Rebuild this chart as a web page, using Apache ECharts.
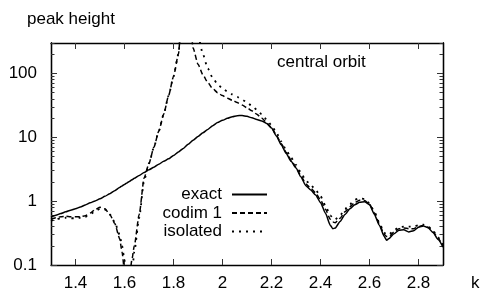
<!DOCTYPE html>
<html>
<head>
<meta charset="utf-8">
<script src="https://cdn.jsdelivr.net/npm/echarts@6/dist/echarts.min.js"></script>
<style>
  html, body { margin: 0; padding: 0; background: #fff; }
  #chart { width: 483px; height: 292px; }
</style>
</head>
<body>
<div id="chart"></div>
<script>
// wave number k
const kValues = [
  1.30, 1.32, 1.34, 1.36, 1.38, 1.40, 1.42, 1.44, 1.46, 1.48,
  1.50, 1.52, 1.54, 1.56, 1.58, 1.59, 1.60, 1.61, 1.62, 1.63,
  1.64, 1.66, 1.68, 1.70, 1.72, 1.74, 1.76, 1.78, 1.80, 1.82,
  1.84, 1.86, 1.88, 1.90, 1.92, 1.94, 1.96, 1.98, 2.00, 2.02,
  2.04, 2.06, 2.08, 2.10, 2.12, 2.14, 2.16, 2.18, 2.20, 2.22,
  2.24, 2.26, 2.28, 2.30, 2.32, 2.34, 2.36, 2.38, 2.40, 2.42,
  2.44, 2.45, 2.46, 2.48, 2.50, 2.52, 2.54, 2.56, 2.58, 2.60,
  2.62, 2.64, 2.66, 2.67, 2.68, 2.70, 2.72, 2.74, 2.76, 2.78,
  2.80, 2.82, 2.84, 2.86, 2.88, 2.90
]

// peak height, exact
const exactValues = [
  0.56, 0.60, 0.64, 0.68, 0.72, 0.76, 0.81, 0.87, 0.94, 1.01,
  1.09, 1.19, 1.31, 1.46, 1.64, 1.73, 1.83, 1.93, 2.04, 2.16,
  2.28, 2.53, 2.8, 3.1, 3.4, 3.8, 4.2, 4.6, 5.2, 5.9,
  6.7, 7.8, 9.0, 10.3, 11.8, 13.3, 15.2, 17, 18.5, 19.8,
  21, 21.8, 22, 21.3, 20.2, 19, 18, 16.5, 14, 10.5,
  7.6, 5.6, 4.2, 3.3, 2.4, 1.75, 1.5, 1.25, 0.95, 0.65,
  0.42, 0.37, 0.38, 0.48, 0.62, 0.76, 0.88, 0.96, 0.98, 0.88,
  0.62, 0.42, 0.28, 0.245, 0.26, 0.31, 0.35, 0.355, 0.33, 0.345,
  0.39, 0.41, 0.38, 0.32, 0.25, 0.19
]

// peak height, codim 1 approximation
const codimValues = [
  0.52, 0.55, 0.57, 0.58, 0.57, 0.57, 0.57, 0.59, 0.65, 0.74,
  0.80, 0.76, 0.62, 0.45, 0.26, 0.16, 0.08, 0.03, 0.06, 0.12,
  0.2, 0.62, 2.3, 3.9, 7, 12.5, 23, 45, 90, 200,
  2000, 2000, 250, 140, 95, 72, 58, 50, 45, 41,
  38, 35, 32, 29, 26, 23, 20, 17, 14.2, 10.8,
  7.9, 5.8, 4.4, 3.4, 2.5, 1.85, 1.6, 1.35, 1.05, 0.75,
  0.52, 0.47, 0.46, 0.54, 0.68, 0.82, 0.95, 1.03, 1.02, 0.9,
  0.65, 0.44, 0.3, 0.28, 0.28, 0.33, 0.37, 0.38, 0.37, 0.37,
  0.4, 0.42, 0.39, 0.33, 0.26, 0.2
]

// peak height, isolated approximation
const isolatedValues = [
  0.49, 0.52, 0.54, 0.55, 0.54, 0.54, 0.55, 0.57, 0.62, 0.70,
  0.76, 0.74, 0.62, 0.47, 0.3, 0.2, 0.12, 0.06, 0.03, 0.07,
  0.16, 0.55, 2.1, 3.9, 7, 12.5, 23, 45, 90, 200,
  2000, 3000, 3000, 400, 200, 120, 85, 68, 58, 52,
  47, 43, 39, 35, 31, 27, 23, 19, 15.5, 11.8,
  8.6, 6.3, 4.8, 3.7, 2.8, 2.1, 1.8, 1.5, 1.2, 0.85,
  0.6, 0.54, 0.52, 0.6, 0.75, 0.9, 1.05, 1.12, 1.08, 0.93,
  0.68, 0.46, 0.32, 0.3, 0.3, 0.35, 0.39, 0.4, 0.4, 0.4,
  0.42, 0.43, 0.4, 0.34, 0.27, 0.21
]

// tick labels
const xTicks = [1.4, 1.6, 1.8, 2.0, 2.2, 2.4, 2.6, 2.8]
const yMajorTicks = [0.1, 1, 10, 100]
const yMinorTicks = [
  0.2, 0.3, 0.4, 0.5, 0.6, 0.7, 0.8, 0.9,
  2, 3, 4, 5, 6, 7, 8, 9,
  20, 30, 40, 50, 60, 70, 80, 90,
  200, 300
]

const FONT = 'Liberation Sans'
const textStyle = { fontFamily: FONT, fontSize: 17, color: '#000' }

function yAxisOf(position, ticks, length, withLabels) {
  return {
    type: 'log',
    logBase: 10,
    min: 0.1,
    max: 300,
    position,
    splitLine: { show: false },
    axisLine: { show: true, lineStyle: { color: '#000', width: 1.3 } },
    axisTick: {
      show: true,
      inside: true,
      length,
      customValues: ticks,
      lineStyle: { color: '#333', width: 1 },
    },
    axisLabel: withLabels
      ? {
          show: true,
          customValues: yMajorTicks,
          margin: 14,
          formatter: (v) => String(+Number(v).toPrecision(3)),
          ...textStyle,
        }
      : { show: false },
  }
}

function xAxisOf(position, withLabels) {
  return {
    type: 'value',
    min: 1.3,
    max: 2.9,
    position,
    splitLine: { show: false },
    axisLine: { show: true, onZero: false, lineStyle: { color: '#000', width: 1.3 } },
    axisTick: {
      show: true,
      inside: true,
      length: 6,
      customValues: xTicks,
      lineStyle: { color: '#333', width: 1 },
    },
    axisLabel: withLabels
      ? {
          show: true,
          customValues: xTicks,
          margin: 10,
          formatter: (v) => String(+Number(v).toFixed(1)),
          ...textStyle,
        }
      : { show: false },
  }
}

const pairs = (vals) => kValues.map((k, i) => [k, vals[i]])

const lineSeries = (name, vals, type, width) => ({
  name,
  type: 'line',
  data: pairs(vals),
  symbol: 'none',
  smooth: 0.2,
  smoothMonotone: 'x',
  clip: true,
  xAxisIndex: 0,
  yAxisIndex: 0,
  lineStyle: { color: '#000', width, type },
  itemStyle: { color: '#000' },
  emphasis: { disabled: true },
})

const chart = echarts.init(document.getElementById('chart'), null, { renderer: 'canvas' })

chart.setOption({
  animation: false,
  backgroundColor: '#fff',
  textStyle: { fontFamily: FONT },
  title: [
    { text: 'peak height', left: 27, top: 11, padding: 0, textStyle: { ...textStyle, fontWeight: 'normal' } },
    { text: 'central orbit', left: 277, top: 54, padding: 0, textStyle: { ...textStyle, fontWeight: 'normal' } },
    { text: 'k', left: 471, top: 275, padding: 0, textStyle: { ...textStyle, fontWeight: 'normal' } },
  ],
  grid: { left: 51, right: 40, top: 43, bottom: 27, containLabel: false },
  legend: {
    orient: 'vertical',
    right: 215,
    top: 186,
    padding: 0,
    align: 'right',
    itemWidth: 35,
    itemHeight: 14,
    itemGap: 1.5,
    itemStyle: { opacity: 0 },
    textStyle: { ...textStyle, padding: [0, 5, 0, 0] },
    data: ['exact', 'codim 1', 'isolated'],
  },
  xAxis: [xAxisOf('bottom', true), xAxisOf('top', false)],
  yAxis: [
    yAxisOf('left', yMajorTicks, 6, true),
    yAxisOf('left', yMinorTicks, 3.5, false),
    yAxisOf('right', yMajorTicks, 6, false),
    yAxisOf('right', yMinorTicks, 3.5, false),
  ],
  series: [
    lineSeries('exact', exactValues, 'solid', 1.5),
    lineSeries('codim 1', codimValues, [5, 3], 1.5),
    lineSeries('isolated', isolatedValues, [2, 5], 1.8),
  ],
})
</script>
</body>
</html>
